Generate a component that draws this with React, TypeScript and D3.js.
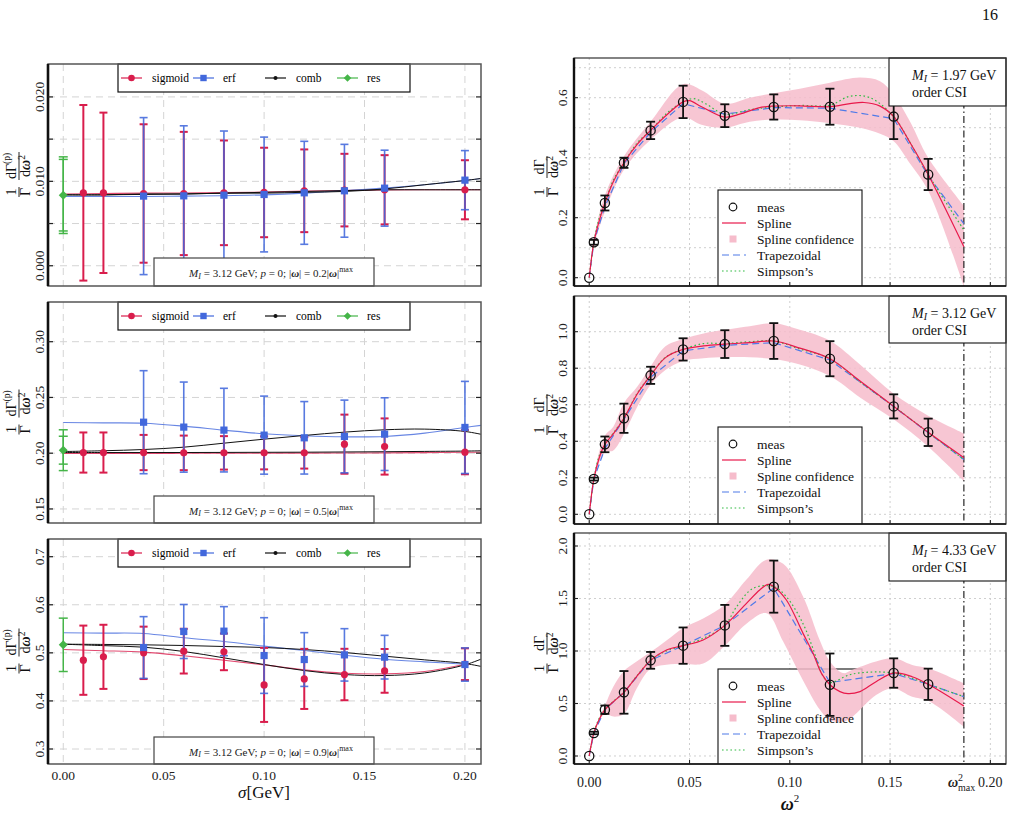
import React from "react";
import * as d3 from "d3";

const SERIF = '"Liberation Serif", "DejaVu Serif", serif';

// ---------- left column: fit-method comparison vs smearing width sigma ----------
const sigmaRes = [0];
const sigmaSigmoid = [0.01, 0.02, 0.04, 0.06, 0.08, 0.1, 0.12, 0.14, 0.16, 0.2];
const sigmaErf = [0.04, 0.06, 0.08, 0.1, 0.12, 0.14, 0.16, 0.2];
const fitSigma = [0, 0.02, 0.04, 0.06, 0.08, 0.1, 0.12, 0.14, 0.16, 0.18, 0.2, 0.21];
const omegaFractions = ["0.2", "0.5", "0.9"];
const legendLeft = ["sigmoid", "erf", "comb", "res"];

// |w| = 0.2 |w|max
const sigmoid02 = [0.00864, 0.00864, 0.00856, 0.00856, 0.00864, 0.00868, 0.00888, 0.00896, 0.009, 0.009];
const sigmoid02Err = [0.0104, 0.0095, 0.0082, 0.0073, 0.0062, 0.0053, 0.0049, 0.0043, 0.0041, 0.0035];
const erf02 = [0.00825, 0.00828, 0.00836, 0.00844, 0.00864, 0.00888, 0.00919, 0.01014];
const erf02Err = [0.0093, 0.0083, 0.0076, 0.0068, 0.0061, 0.0055, 0.0045, 0.0035];
const res02 = [0.00836];
const res02Err = [0.00454, 0.00424];
const sigmoidFit02 = [0.0085, 0.00855, 0.0086, 0.00862, 0.00866, 0.00872, 0.00885, 0.00892, 0.00898, 0.009, 0.009, 0.009];
const erfFit02 = [0.0082, 0.0082, 0.0082, 0.00825, 0.0083, 0.0084, 0.0086, 0.0089, 0.0092, 0.0096, 0.0101, 0.0104];
const combFitA02 = [0.0084, 0.0084, 0.00845, 0.0085, 0.0086, 0.0087, 0.0088, 0.0089, 0.009, 0.009, 0.009, 0.009];
const combFitB02 = [0.0084, 0.0084, 0.0085, 0.0085, 0.0086, 0.0086, 0.0087, 0.0088, 0.0091, 0.0096, 0.0101, 0.0104];

// |w| = 0.5 |w|max
const sigmoid05 = [0.2006, 0.2006, 0.2006, 0.2003, 0.2003, 0.2003, 0.2003, 0.2081, 0.206, 0.2009];
const sigmoid05Err = [0.018, 0.018, 0.0158, 0.0155, 0.015, 0.0148, 0.0141, 0.0265, 0.0252, 0.0198];
const erf05 = [0.2278, 0.2234, 0.2207, 0.2162, 0.2138, 0.215, 0.2171, 0.2231];
const erf05Err = [0.0462, 0.0404, 0.0375, 0.035, 0.0325, 0.0326, 0.0326, 0.0413];
const res05 = [0.2027];
const res05Err = [0.0183, 0.0125];
const sigmoidFit05 = [0.1997, 0.1998, 0.1998, 0.1999, 0.2, 0.2, 0.2001, 0.2002, 0.2003, 0.2005, 0.2008, 0.2009];
const erfFit05 = [0.2275, 0.2272, 0.2269, 0.2243, 0.2207, 0.2174, 0.2156, 0.2147, 0.215, 0.218, 0.2231, 0.2254];
const combFitA05 = [0.2015, 0.2022, 0.2033, 0.2054, 0.209, 0.2126, 0.2159, 0.2189, 0.221, 0.2216, 0.2195, 0.2162];
const combFitB05 = [0.2006, 0.2006, 0.2006, 0.2006, 0.2007, 0.2008, 0.2009, 0.2011, 0.2013, 0.2016, 0.2019, 0.2022];

// |w| = 0.9 |w|max
const sigmoid09 = [0.4847, 0.4917, 0.5, 0.5035, 0.5021, 0.4333, 0.4458, 0.4549, 0.4625, 0.4764];
const sigmoid09Err = [0.072, 0.0667, 0.0545, 0.0465, 0.0382, 0.077, 0.0625, 0.0535, 0.0455, 0.033];
const erf09 = [0.5111, 0.5444, 0.5451, 0.4944, 0.4861, 0.4958, 0.491, 0.4757];
const erf09Err = [0.0642, 0.0562, 0.051, 0.0787, 0.0559, 0.0545, 0.0454, 0.0346];
const res09 = [0.5167];
const res09Err = [0.0555];
const sigmoidFit09 = [0.5069, 0.5045, 0.5014, 0.4938, 0.4847, 0.475, 0.4646, 0.4576, 0.4563, 0.4611, 0.4764];
const erfFit09 = [0.5417, 0.541, 0.5403, 0.5313, 0.5236, 0.5139, 0.5049, 0.4951, 0.4868, 0.4813, 0.4764];
const combFitA09 = [0.518, 0.515, 0.5118, 0.5028, 0.4896, 0.4757, 0.4632, 0.4549, 0.4528, 0.4583, 0.475, 0.4903];
const combFitB09 = [0.518, 0.5175, 0.5167, 0.5153, 0.5132, 0.5111, 0.5069, 0.5007, 0.4931, 0.4854, 0.4778, 0.4701];

// ---------- right column: differential rate vs omega^2 ----------
const omegaMeas = [0, 0.0023, 0.0078, 0.0173, 0.0306, 0.0468, 0.0676, 0.092, 0.12, 0.1518, 0.169];
const omegaMax = 0.1868;
const infoMasses = ["1.97", "3.12", "4.33"];
const legendRight = ["meas", "Spline", "Spline confidence", "Trapezoidal", "Simpson\u2019s"];

// M_I = 1.97 GeV
const meas197 = [0, 0.118, 0.249, 0.383, 0.491, 0.586, 0.54, 0.569, 0.57, 0.537, 0.344];
const meas197Err = [0, 0.008, 0.025, 0.017, 0.029, 0.054, 0.038, 0.042, 0.06, 0.075, 0.052];
const spline197X = [0, 0.0023, 0.005, 0.0078, 0.012, 0.0173, 0.024, 0.0306, 0.039, 0.0468, 0.05, 0.056, 0.0676, 0.075, 0.085, 0.092, 0.105, 0.12, 0.13, 0.137, 0.145, 0.1518, 0.16, 0.169, 0.1868];
const spline197Y = [0, 0.118, 0.19, 0.249, 0.32, 0.383, 0.445, 0.491, 0.545, 0.586, 0.59, 0.57, 0.535, 0.545, 0.567, 0.572, 0.573, 0.57, 0.58, 0.584, 0.572, 0.537, 0.45, 0.344, 0.103];
const band197X = [0, 0.0023, 0.0078, 0.0173, 0.0306, 0.0468, 0.056, 0.0676, 0.08, 0.092, 0.105, 0.12, 0.135, 0.145, 0.1518, 0.16, 0.169, 0.1868];
const band197Hi = [0, 0.13, 0.275, 0.405, 0.52, 0.645, 0.625, 0.58, 0.6, 0.615, 0.63, 0.65, 0.667, 0.655, 0.61, 0.52, 0.4, 0.24];
const band197Lo = [0, 0.105, 0.22, 0.36, 0.46, 0.535, 0.51, 0.5, 0.52, 0.527, 0.525, 0.515, 0.5, 0.48, 0.455, 0.38, 0.29, -0.03];
const simpson197X = [0, 0.0023, 0.005, 0.0078, 0.012, 0.0173, 0.024, 0.0306, 0.039, 0.0468, 0.052, 0.058, 0.0676, 0.08, 0.092, 0.105, 0.12, 0.13, 0.14, 0.1518, 0.16, 0.169, 0.1868];
const simpson197Y = [0, 0.118, 0.2, 0.249, 0.325, 0.383, 0.45, 0.491, 0.55, 0.586, 0.597, 0.58, 0.545, 0.56, 0.569, 0.574, 0.575, 0.605, 0.6, 0.537, 0.45, 0.344, 0.159];
const trapezoid197 = [0, 0.118, 0.237, 0.38, 0.485, 0.58, 0.545, 0.567, 0.565, 0.53, 0.34, 0.18];

// M_I = 3.12 GeV
const meas312 = [0, 0.193, 0.383, 0.526, 0.761, 0.903, 0.932, 0.949, 0.852, 0.591, 0.449];
const meas312Err = [0, 0.008, 0.043, 0.08, 0.047, 0.061, 0.076, 0.098, 0.096, 0.066, 0.075];
const spline312X = [0, 0.0023, 0.005, 0.0078, 0.012, 0.0173, 0.024, 0.0306, 0.038, 0.0468, 0.057, 0.0676, 0.08, 0.092, 0.105, 0.12, 0.135, 0.1518, 0.169, 0.1868];
const spline312Y = [0, 0.193, 0.31, 0.383, 0.44, 0.526, 0.66, 0.761, 0.858, 0.903, 0.922, 0.932, 0.94, 0.949, 0.91, 0.852, 0.73, 0.591, 0.449, 0.31];
const band312X = [0, 0.0023, 0.0078, 0.012, 0.0173, 0.024, 0.0306, 0.038, 0.0468, 0.057, 0.0676, 0.08, 0.092, 0.105, 0.12, 0.135, 0.1518, 0.169, 0.1868];
const band312Hi = [0, 0.21, 0.43, 0.48, 0.61, 0.7, 0.81, 0.92, 0.96, 0.99, 1.01, 1.03, 1.046, 1.01, 0.95, 0.82, 0.66, 0.54, 0.443];
const band312Lo = [0, 0.18, 0.34, 0.35, 0.44, 0.59, 0.71, 0.79, 0.84, 0.855, 0.86, 0.86, 0.85, 0.82, 0.757, 0.64, 0.52, 0.37, 0.182];
const simpson312X = [0, 0.0023, 0.005, 0.0078, 0.012, 0.0173, 0.024, 0.0306, 0.038, 0.0468, 0.057, 0.0676, 0.08, 0.092, 0.105, 0.12, 0.135, 0.1518, 0.169, 0.1868];
const simpson312Y = [0, 0.193, 0.32, 0.383, 0.445, 0.526, 0.665, 0.761, 0.86, 0.903, 0.935, 0.935, 0.945, 0.949, 0.905, 0.852, 0.725, 0.591, 0.449, 0.3];
const trapezoid312 = [0, 0.193, 0.36, 0.52, 0.75, 0.895, 0.925, 0.94, 0.845, 0.59, 0.447, 0.3];

// M_I = 4.33 GeV
const meas433 = [0, 0.219, 0.441, 0.606, 0.911, 1.051, 1.244, 1.613, 0.679, 0.79, 0.683];
const meas433Err = [0, 0.012, 0.04, 0.203, 0.08, 0.173, 0.195, 0.248, 0.297, 0.14, 0.149];
const spline433X = [0, 0.0023, 0.005, 0.0078, 0.012, 0.0173, 0.0236, 0.0306, 0.0385, 0.0468, 0.0568, 0.0676, 0.0784, 0.085, 0.0892, 0.092, 0.0983, 0.1066, 0.1116, 0.1158, 0.12, 0.125, 0.129, 0.135, 0.143, 0.1518, 0.161, 0.169, 0.1868];
const spline433Y = [0, 0.219, 0.35, 0.441, 0.517, 0.606, 0.756, 0.911, 1.01, 1.051, 1.105, 1.244, 1.454, 1.581, 1.635, 1.613, 1.486, 1.168, 0.978, 0.787, 0.679, 0.613, 0.594, 0.613, 0.708, 0.79, 0.755, 0.683, 0.476];
const band433X = [0, 0.0023, 0.0078, 0.012, 0.0173, 0.0236, 0.0306, 0.0385, 0.0468, 0.0568, 0.0676, 0.0784, 0.0884, 0.0967, 0.1066, 0.115, 0.12, 0.1265, 0.131, 0.143, 0.1518, 0.161, 0.169, 0.1868];
const band433Hi = [0, 0.23, 0.48, 0.66, 0.81, 0.9, 0.99, 1.1, 1.22, 1.31, 1.44, 1.68, 1.87, 1.83, 1.52, 1.1, 0.9, 0.79, 0.82, 0.9, 0.93, 0.867, 0.835, 0.692];
const band433Lo = [0, 0.21, 0.4, 0.375, 0.4, 0.64, 0.83, 0.87, 0.876, 0.88, 1.05, 1.26, 1.36, 1.09, 0.72, 0.44, 0.34, 0.327, 0.37, 0.58, 0.644, 0.565, 0.527, 0.279];
const simpson433X = [0, 0.0023, 0.005, 0.0078, 0.012, 0.0173, 0.0236, 0.0306, 0.0385, 0.0468, 0.0568, 0.0676, 0.0734, 0.0817, 0.092, 0.0983, 0.1066, 0.1116, 0.1166, 0.12, 0.131, 0.1518, 0.169, 0.1868];
const simpson433Y = [0, 0.219, 0.36, 0.441, 0.52, 0.606, 0.76, 0.911, 1.0, 1.051, 1.12, 1.244, 1.42, 1.597, 1.613, 1.517, 1.26, 1.02, 0.76, 0.7, 0.78, 0.79, 0.683, 0.565];
const trapezoid433 = [0, 0.219, 0.441, 0.606, 0.911, 1.051, 1.244, 1.6, 0.7, 0.785, 0.683, 0.565];

// ---------- colours ----------
const C_RED = "#d91d4c";
const C_BLUE = "#4268dc";
const C_GREEN = "#45b548";
const C_SPLINE = "#e8194b";
const C_BAND = "#f6bccb";
const C_TRAP = "#4f7ae8";
const C_SIMP = "#33bb44";

const xL = d3.scaleLinear().domain([-0.0076, 0.208]).range([48, 481]);
const xR = d3.scaleLinear().domain([-0.0076, 0.2078]).range([574, 1006]);
const sigmaTicks = [0, 0.05, 0.1, 0.15, 0.2];

const zip = (xs: number[], ys: number[]) => ys.map((y, i) => [xs[i], y] as [number, number]);

function FracLabel({ cx, cy, size, sup, o1, o2 }: { cx: number; cy: number; size: number; sup: boolean; o1: number; o2: number }) {
  const w2 = sup ? 14 : 11;
  return (
    <g transform={`translate(${cx},${cy}) rotate(-90)`} fontFamily={SERIF} fontSize={size} fill="#111">
      <text x={o1} y={-3} textAnchor="middle">1</text>
      <line x1={o1 - 5} x2={o1 + 5} y1={0} y2={0} stroke="#111" strokeWidth={0.9} />
      <text x={o1} y={size * 0.82} textAnchor="middle">Γ</text>
      <text x={o2} y={-3} textAnchor="middle">
        dΓ{sup ? <tspan fontSize={size * 0.68} dy={-size * 0.4}>(p)</tspan> : null}
      </text>
      <line x1={o2 - w2} x2={o2 + w2} y1={0} y2={0} stroke="#111" strokeWidth={0.9} />
      <text x={o2} y={size * 0.82} textAnchor="middle">
        d<tspan fontWeight="bold" fontStyle="italic">ω</tspan>
        <tspan fontSize={size * 0.68} dy={-size * 0.4}>2</tspan>
      </text>
    </g>
  );
}

function ErrBar({ x, y0, y1, color, w, cap, opacity = 1 }: { x: number; y0: number; y1: number; color: string; w: number; cap: number; opacity?: number }) {
  return (
    <g stroke={color} strokeWidth={w} opacity={opacity}>
      <line x1={x} x2={x} y1={y0} y2={y1} />
      <line x1={x - cap} x2={x + cap} y1={y0} y2={y0} />
      <line x1={x - cap} x2={x + cap} y1={y1} y2={y1} />
    </g>
  );
}

function Diamond({ x, y, s, fill }: { x: number; y: number; s: number; fill: string }) {
  return <path d={`M${x},${y - s}L${x + s},${y}L${x},${y + s}L${x - s},${y}Z`} fill={fill} />;
}

type LeftCfg = {
  id: string; top: number; bottom: number; domain: [number, number];
  ticks: number[]; labels: number[]; fmt: string;
  sig: number[]; sigErr: number[]; erf: number[]; erfErr: number[];
  res: number[]; resErr: number[];
  fitSig: number[]; fitErf: number[]; combA: number[]; combB: number[];
  frac: string; boxTop: number; xLabels: boolean;
};

const leftPanels: LeftCfg[] = [
  { id: "l1", top: 64, bottom: 286, domain: [-0.0024, 0.0239], ticks: [0, 0.005, 0.01, 0.015, 0.02], labels: [0, 0.01, 0.02], fmt: ".3f",
    sig: sigmoid02, sigErr: sigmoid02Err, erf: erf02, erfErr: erf02Err, res: res02, resErr: res02Err,
    fitSig: sigmoidFit02, fitErf: erfFit02, combA: combFitA02, combB: combFitB02, frac: omegaFractions[0], boxTop: 258, xLabels: false },
  { id: "l2", top: 302, bottom: 523, domain: [0.1374, 0.3356], ticks: [0.15, 0.2, 0.25, 0.3], labels: [0.15, 0.2, 0.25, 0.3], fmt: ".2f",
    sig: sigmoid05, sigErr: sigmoid05Err, erf: erf05, erfErr: erf05Err, res: res05, resErr: res05Err,
    fitSig: sigmoidFit05, fitErf: erfFit05, combA: combFitA05, combB: combFitB05, frac: omegaFractions[1], boxTop: 496, xLabels: false },
  { id: "l3", top: 539, bottom: 764, domain: [0.2688, 0.7368], ticks: [0.3, 0.4, 0.5, 0.6, 0.7], labels: [0.3, 0.4, 0.5, 0.6, 0.7], fmt: ".1f",
    sig: sigmoid09, sigErr: sigmoid09Err, erf: erf09, erfErr: erf09Err, res: res09, resErr: res09Err,
    fitSig: sigmoidFit09, fitErf: erfFit09, combA: combFitA09, combB: combFitB09, frac: omegaFractions[2], boxTop: 737, xLabels: true },
];

function LeftPanel({ c }: { c: LeftCfg }) {
  const y = d3.scaleLinear().domain(c.domain).range([c.bottom, c.top]);
  const line = d3.line<[number, number]>().x((d) => xL(d[0])).y((d) => y(d[1])).curve(d3.curveCatmullRom.alpha(0.5));
  const [x0, x1] = xL.range();
  const fmt = d3.format(c.fmt);
  const cy = (c.top + c.bottom) / 2;
  const legY = c.top + 14;
  const fs = 11.5;
  return (
    <g>
      <defs>
        <clipPath id={`clip-${c.id}`}>
          <rect x={x0} y={c.top} width={x1 - x0} height={c.bottom - c.top} />
        </clipPath>
      </defs>
      <g clipPath={`url(#clip-${c.id})`}>
        {sigmaTicks.map((t) => (
          <line key={`gx${t}`} x1={xL(t)} x2={xL(t)} y1={c.top} y2={c.bottom} stroke="#d4d4d4" strokeDasharray="7,5" />
        ))}
        {c.ticks.map((t) => (
          <line key={`gy${t}`} x1={x0} x2={x1} y1={y(t)} y2={y(t)} stroke="#d4d4d4" strokeDasharray="7,5" />
        ))}
        <path d={line(zip(fitSigma, c.fitSig)) || ""} fill="none" stroke={C_RED} strokeWidth={1.1} opacity={0.8} />
        <path d={line(zip(fitSigma, c.fitErf)) || ""} fill="none" stroke={C_BLUE} strokeWidth={1.1} opacity={0.8} />
        <path d={line(zip(fitSigma, c.combA)) || ""} fill="none" stroke="#111" strokeWidth={1} />
        <path d={line(zip(fitSigma, c.combB)) || ""} fill="none" stroke="#111" strokeWidth={1} />
        {c.resErr.map((e, i) => (
          <ErrBar key={`re${i}`} x={xL(sigmaRes[0])} y0={y(c.res[0] - e)} y1={y(c.res[0] + e)} color={C_GREEN} w={1.5} cap={4.5} />
        ))}
        {c.sig.map((v, i) => (
          <ErrBar key={`se${i}`} x={xL(sigmaSigmoid[i])} y0={y(v - c.sigErr[i])} y1={y(v + c.sigErr[i])} color={C_RED} w={2} cap={4} />
        ))}
        {c.erf.map((v, i) => (
          <ErrBar key={`ee${i}`} x={xL(sigmaErf[i])} y0={y(v - c.erfErr[i])} y1={y(v + c.erfErr[i])} color={C_BLUE} w={1.6} cap={4} opacity={0.88} />
        ))}
        {c.sig.map((v, i) => (
          <circle key={`sm${i}`} cx={xL(sigmaSigmoid[i])} cy={y(v)} r={3.6} fill={C_RED} />
        ))}
        {c.erf.map((v, i) => (
          <rect key={`em${i}`} x={xL(sigmaErf[i]) - 3.6} y={y(v) - 3.6} width={7.2} height={7.2} fill={C_BLUE} />
        ))}
        <Diamond x={xL(sigmaRes[0])} y={y(c.res[0])} s={4.5} fill={C_GREEN} />
      </g>

      {/* legend */}
      <rect x={118} y={c.top} width={292} height={28} fill="white" stroke="#111" strokeWidth={1.2} />
      <g fontFamily={SERIF} fontSize={fs} dominantBaseline="central">
        <line x1={121} x2={142} y1={legY} y2={legY} stroke={C_RED} strokeWidth={1.2} />
        <circle cx={131.5} cy={legY} r={3.3} fill={C_RED} />
        <text x={152} y={legY}>{legendLeft[0]}</text>
        <line x1={193} x2={214} y1={legY} y2={legY} stroke={C_BLUE} strokeWidth={1.2} />
        <rect x={200.3} y={legY - 3.2} width={6.4} height={6.4} fill={C_BLUE} />
        <text x={223} y={legY}>{legendLeft[1]}</text>
        <line x1={265} x2={286} y1={legY} y2={legY} stroke="#111" strokeWidth={1.2} />
        <circle cx={275.5} cy={legY} r={2} fill="#111" />
        <text x={296} y={legY}>{legendLeft[2]}</text>
        <line x1={337} x2={358} y1={legY} y2={legY} stroke={C_GREEN} strokeWidth={1.2} />
        <Diamond x={347.5} y={legY} s={3.8} fill={C_GREEN} />
        <text x={367} y={legY}>{legendLeft[3]}</text>
      </g>

      {/* parameter box */}
      <rect x={154} y={c.boxTop} width={220} height={c.bottom - c.boxTop} fill="white" stroke="#444" strokeWidth={1.2} />
      <text x={271} y={(c.boxTop + c.bottom) / 2 + 1} textAnchor="middle" dominantBaseline="central" fontFamily={SERIF} fontSize={11} fill="#222">
        <tspan fontStyle="italic">M</tspan>
        <tspan fontStyle="italic" fontSize={8} dy={2.5}>I</tspan>
        <tspan dy={-2.5}> = 3.12 GeV; </tspan>
        <tspan fontStyle="italic">p</tspan>
        <tspan> = 0; |</tspan>
        <tspan fontStyle="italic" fontWeight="bold">ω</tspan>
        <tspan>| = {c.frac}|</tspan>
        <tspan fontStyle="italic" fontWeight="bold">ω</tspan>
        <tspan>|</tspan>
        <tspan fontSize={8} dy={-4}>max</tspan>
      </text>

      {/* frame and axes */}
      <rect x={x0} y={c.top} width={x1 - x0} height={c.bottom - c.top} fill="none" stroke="#555" strokeWidth={1.5} />
      <line x1={x0} x2={x0} y1={c.top} y2={c.bottom} stroke="#111" strokeWidth={2.6} />
      {c.ticks.map((t) => (
        <g key={`tk${t}`} stroke="#222" strokeWidth={1.2}>
          <line x1={x0} x2={x0 + 5} y1={y(t)} y2={y(t)} />
          <line x1={x1 - 5} x2={x1} y1={y(t)} y2={y(t)} />
        </g>
      ))}
      {c.labels.map((t) => (
        <text key={`tl${t}`} transform={`translate(39,${y(t)}) rotate(-90)`} textAnchor="middle" dominantBaseline="central" fontFamily={SERIF} fontSize={13.5} fill="#222">
          {fmt(t)}
        </text>
      ))}
      <FracLabel cx={19} cy={cy} size={14} sup={true} o1={-17} o2={9} />
      {c.xLabels &&
        sigmaTicks.map((t) => (
          <text key={`xl${t}`} x={xL(t)} y={775} textAnchor="middle" dominantBaseline="central" fontFamily={SERIF} fontSize={13.5} fill="#222">
            {d3.format(".2f")(t)}
          </text>
        ))}
    </g>
  );
}

type RightCfg = {
  id: string; top: number; bottom: number; domain: [number, number];
  grid: number[]; labels: number[];
  meas: number[]; err: number[];
  splineX: number[]; splineY: number[];
  bandX: number[]; bandHi: number[]; bandLo: number[];
  simpX: number[]; simpY: number[]; trap: number[];
  mass: string; legTop: number; infoBottom: number; xLabels: boolean;
};

const rightPanels: RightCfg[] = [
  { id: "r1", top: 58, bottom: 286, domain: [-0.0277, 0.7323], grid: [0, 0.1, 0.2, 0.3, 0.4, 0.5, 0.6, 0.7], labels: [0, 0.2, 0.4, 0.6],
    meas: meas197, err: meas197Err, splineX: spline197X, splineY: spline197Y, bandX: band197X, bandHi: band197Hi, bandLo: band197Lo,
    simpX: simpson197X, simpY: simpson197Y, trap: trapezoid197, mass: infoMasses[0], legTop: 190, infoBottom: 106, xLabels: false },
  { id: "r2", top: 296, bottom: 524, domain: [-0.0531, 1.1955], grid: [0, 0.2, 0.4, 0.6, 0.8, 1.0], labels: [0, 0.2, 0.4, 0.6, 0.8, 1.0],
    meas: meas312, err: meas312Err, splineX: spline312X, splineY: spline312Y, bandX: band312X, bandHi: band312Hi, bandLo: band312Lo,
    simpX: simpson312X, simpY: simpson312Y, trap: trapezoid312, mass: infoMasses[1], legTop: 427, infoBottom: 343, xLabels: false },
  { id: "r3", top: 533, bottom: 764, domain: [-0.0762, 2.1238], grid: [0, 0.5, 1.0, 1.5, 2.0], labels: [0, 0.5, 1.0, 1.5, 2.0],
    meas: meas433, err: meas433Err, splineX: spline433X, splineY: spline433Y, bandX: band433X, bandHi: band433Hi, bandLo: band433Lo,
    simpX: simpson433X, simpY: simpson433Y, trap: trapezoid433, mass: infoMasses[2], legTop: 669, infoBottom: 581, xLabels: true },
];

function RightPanel({ c }: { c: RightCfg }) {
  const y = d3.scaleLinear().domain(c.domain).range([c.bottom, c.top]);
  const [x0, x1] = xR.range();
  const smooth = d3.line<[number, number]>().x((d) => xR(d[0])).y((d) => y(d[1])).curve(d3.curveCatmullRom.alpha(0.5));
  const straight = d3.line<[number, number]>().x((d) => xR(d[0])).y((d) => y(d[1]));
  const area = d3
    .area<number>()
    .x((_, i) => xR(c.bandX[i]))
    .y0((_, i) => y(c.bandLo[i]))
    .y1((_, i) => y(c.bandHi[i]))
    .curve(d3.curveCatmullRom.alpha(0.5));
  const fmt = d3.format(".1f");
  const rowY = (k: number) => c.legTop + 17 + 16 * k;
  const lx = 733;
  return (
    <g>
      <defs>
        <clipPath id={`clip-${c.id}`}>
          <rect x={x0} y={c.top} width={x1 - x0} height={c.bottom - c.top} />
        </clipPath>
      </defs>
      <g clipPath={`url(#clip-${c.id})`}>
        {sigmaTicks.map((t) => (
          <line key={`gx${t}`} x1={xR(t)} x2={xR(t)} y1={c.top} y2={c.bottom} stroke="#cfcfcf" strokeDasharray="2,3" />
        ))}
        {c.grid.map((t) => (
          <line key={`gy${t}`} x1={x0} x2={x1} y1={y(t)} y2={y(t)} stroke="#cfcfcf" strokeDasharray="2,3" />
        ))}
        <rect x={718} y={c.legTop} width={144} height={c.bottom - c.legTop + 2} fill="white" stroke="#111" strokeWidth={1.1} />
        <path d={area(c.bandX) || ""} fill={C_BAND} opacity={0.85} />
        <line x1={xR(omegaMax)} x2={xR(omegaMax)} y1={c.top} y2={c.bottom} stroke="#111" strokeWidth={1.1} strokeDasharray="7,3,1.5,3" />
        <path d={straight(zip([...omegaMeas, omegaMax], c.trap)) || ""} fill="none" stroke={C_TRAP} strokeWidth={1.2} strokeDasharray="7,4" />
        <path d={smooth(zip(c.simpX, c.simpY)) || ""} fill="none" stroke={C_SIMP} strokeWidth={1.2} strokeDasharray="1.6,2.6" />
        <path d={smooth(zip(c.splineX, c.splineY)) || ""} fill="none" stroke={C_SPLINE} strokeWidth={1.2} />
        {c.meas.map((v, i) =>
          c.err[i] > 0 ? (
            <ErrBar key={`e${i}`} x={xR(omegaMeas[i])} y0={y(v - c.err[i])} y1={y(v + c.err[i])} color="#111" w={1.8} cap={4.5} />
          ) : null
        )}
        {c.meas.map((v, i) => (
          <circle key={`m${i}`} cx={xR(omegaMeas[i])} cy={y(v)} r={4.6} fill="none" stroke="#111" strokeWidth={1.3} />
        ))}
      </g>

      {/* legend contents */}
      <g fontFamily={SERIF} fontSize={13.5} dominantBaseline="central" fill="#111">
        <circle cx={lx} cy={rowY(0)} r={3.8} fill="none" stroke="#111" strokeWidth={1.2} />
        <line x1={722} x2={746} y1={rowY(1)} y2={rowY(1)} stroke={C_SPLINE} strokeWidth={1.2} />
        <rect x={lx - 3.5} y={rowY(2) - 3.5} width={7} height={7} fill={C_BAND} />
        <line x1={722} x2={746} y1={rowY(3)} y2={rowY(3)} stroke={C_TRAP} strokeWidth={1.2} strokeDasharray="7,4" />
        <line x1={722} x2={746} y1={rowY(4)} y2={rowY(4)} stroke={C_SIMP} strokeWidth={1.2} strokeDasharray="1.6,2.6" />
        {legendRight.map((s, k) => (
          <text key={s} x={757} y={rowY(k)}>{s}</text>
        ))}
      </g>

      {/* info box */}
      <rect x={889} y={c.top} width={x1 - 889} height={c.infoBottom - c.top} fill="white" stroke="#111" strokeWidth={1.1} />
      <g fontFamily={SERIF} fontSize={14} dominantBaseline="central" fill="#111">
        <text x={912} y={c.top + 17}>
          <tspan fontStyle="italic">M</tspan>
          <tspan fontStyle="italic" fontSize={10} dy={3}>I</tspan>
          <tspan dy={-3}> = {c.mass} GeV</tspan>
        </text>
        <text x={912} y={c.top + 34}>order CSI</text>
      </g>

      {/* frame and axes */}
      <rect x={x0} y={c.top} width={x1 - x0} height={c.bottom - c.top} fill="none" stroke="#333" strokeWidth={1.2} />
      <line x1={x0} x2={x0} y1={c.top} y2={c.bottom} stroke="#111" strokeWidth={2.4} />
      <line x1={x0} x2={x1} y1={c.bottom} y2={c.bottom} stroke="#111" strokeWidth={1.6} />
      {c.labels.map((t) => (
        <line key={`tk${t}`} x1={x0} x2={x0 + 4} y1={y(t)} y2={y(t)} stroke="#222" strokeWidth={1.1} />
      ))}
      {sigmaTicks.map((t) => (
        <line key={`bt${t}`} x1={xR(t)} x2={xR(t)} y1={c.bottom - 4} y2={c.bottom} stroke="#222" strokeWidth={1.1} />
      ))}
      {c.labels.map((t) => (
        <text key={`tl${t}`} transform={`translate(562,${y(t)}) rotate(-90)`} textAnchor="middle" dominantBaseline="central" fontFamily={SERIF} fontSize={13.5} fill="#222">
          {fmt(t)}
        </text>
      ))}
      <FracLabel cx={547} cy={(c.top + c.bottom) / 2} size={14} sup={false} o1={-20} o2={5} />
      {c.xLabels && (
        <g fontFamily={SERIF} fontSize={14} fill="#222">
          {sigmaTicks.map((t) => (
            <text key={`xl${t}`} x={xR(t)} y={782} textAnchor="middle" dominantBaseline="central">
              {d3.format(".2f")(t)}
            </text>
          ))}
          <text x={xR(omegaMax) - 16} y={787}>
            <tspan fontWeight="bold" fontStyle="italic">ω</tspan>
            <tspan fontSize={10} dy={-6}>2</tspan>
            <tspan fontSize={10} dx={-5} dy={10}>max</tspan>
          </text>
        </g>
      )}
    </g>
  );
}

export default function App() {
  return (
    <svg width={1014} height={813} viewBox="0 0 1014 813" style={{ position: "absolute", left: 0, top: 0, background: "white" }}>
      <rect x={0} y={0} width={1014} height={813} fill="white" />
      <text x={998} y={20} textAnchor="end" fontFamily={SERIF} fontSize={16} fill="#111">16</text>
      {leftPanels.map((c) => (
        <LeftPanel key={c.id} c={c} />
      ))}
      <text x={264} y={792} textAnchor="middle" dominantBaseline="central" fontFamily={SERIF} fontSize={17} fill="#111">
        <tspan fontStyle="italic">σ</tspan>[GeV]
      </text>
      {rightPanels.map((c) => (
        <RightPanel key={c.id} c={c} />
      ))}
      <text x={790} y={804} textAnchor="middle" dominantBaseline="central" fontFamily={SERIF} fontSize={18} fill="#111">
        <tspan fontWeight="bold" fontStyle="italic">ω</tspan>
        <tspan fontSize={11} dy={-6}>2</tspan>
      </text>
    </svg>
  );
}
